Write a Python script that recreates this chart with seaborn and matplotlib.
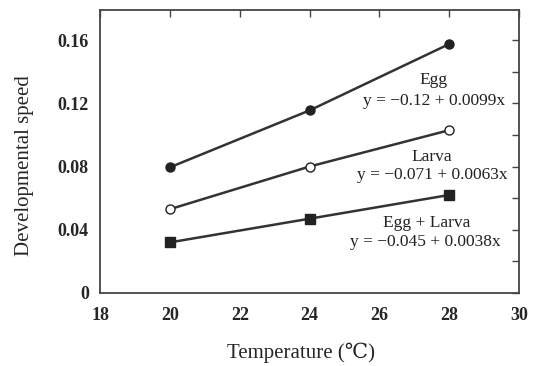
import matplotlib
matplotlib.use("Agg")
import matplotlib.pyplot as plt
from matplotlib.ticker import MultipleLocator
import seaborn as sns
import pandas as pd

# values
temperature = [20, 24, 28]
egg = [0.0795, 0.1155, 0.1575]
larva = [0.053, 0.080, 0.103]
egg_larva = [0.032, 0.047, 0.062]

x_ticks = [18, 20, 22, 24, 26, 28, 30]
y_ticks = [0, 0.04, 0.08, 0.12, 0.16]
y_tick_labels = ["0", "0.04", "0.08", "0.12", "0.16"]

sns.set_theme(style="white")
plt.rcParams["font.family"] = ["Liberation Serif", "DejaVu Serif"]

fig = plt.figure(figsize=(5.38, 3.66), dpi=100)
ax = fig.add_axes([0.186, 0.1995, 0.779, 0.7732])

series = [
    (egg, "o", "#222222"),
    (larva, "o", "white"),
    (egg_larva, "s", "#222222"),
]
for values, marker, face in series:
    df = pd.DataFrame({"t": temperature, "v": values})
    sns.lineplot(data=df, x="t", y="v", ax=ax, color="#333333", linewidth=1.8,
                 marker=marker, markersize=6.5, markerfacecolor=face,
                 markeredgecolor="#222222", markeredgewidth=1.0)

ax.set_xlim(18, 30)
ax.set_ylim(0, 0.179)
ax.set_xticks(x_ticks)
ax.set_xticklabels([str(t) for t in x_ticks], fontsize=13, fontweight="bold")
ax.set_yticks(y_ticks)
ax.set_yticklabels(y_tick_labels, fontsize=13, fontweight="bold")
ax.yaxis.set_minor_locator(MultipleLocator(0.02))
ax.tick_params(which="both", direction="in", top=True, right=True,
               length=5, width=1, color="#444444")
ax.tick_params(axis="x", pad=10)
ax.tick_params(axis="y", pad=8)
for sp in ax.spines.values():
    sp.set_color("#444444")
    sp.set_linewidth(1.3)

ax.set_xlabel("Temperature (℃)", fontsize=15)
ax.xaxis.set_label_coords(0.48, -0.175)
ax.set_ylabel("Developmental speed", fontsize=15)
ax.yaxis.set_label_coords(-0.158, 0.45)

kw = dict(transform=ax.transData, fontsize=12.5, color="#222222")
ax.text(27.54, 0.1347, "Egg", ha="center", va="center", **kw)
ax.text(29.6, 0.1214, "y = −0.12 + 0.0099x", ha="right", va="center", **kw)
ax.text(27.5, 0.086, "Larva", ha="center", va="center", **kw)
ax.text(29.66, 0.0745, "y = −0.071 + 0.0063x", ha="right", va="center", **kw)
ax.text(27.36, 0.0441, "Egg + Larva", ha="center", va="center", **kw)
ax.text(29.46, 0.0323, "y = −0.045 + 0.0038x", ha="right", va="center", **kw)

fig.savefig("out.png", dpi=100, facecolor="white")
